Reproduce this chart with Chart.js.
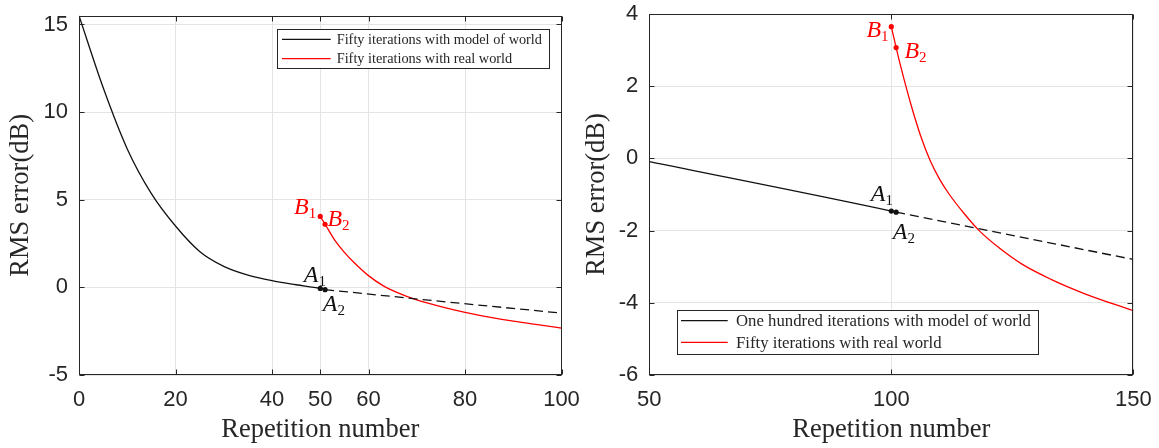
<!DOCTYPE html>
<html>
<head>
<meta charset="utf-8">
<title>RMS error vs repetition number</title>
<script src="https://cdn.jsdelivr.net/npm/chart.js@4.4.1/dist/chart.umd.min.js"></script>
<style>
    body { margin: 0; background: #fff; }
    #wrap { position: relative; width: 1159px; height: 448px; overflow: hidden; }
    canvas { position: absolute; top: 0; }
</style>
</head>
<body>
<div id="wrap">
    <canvas id="leftChart" width="580" height="448" style="left:0"></canvas>
    <canvas id="rightChart" width="579" height="448" style="left:580px"></canvas>
</div>
<script>
// ---- left panel: fifty iterations with model, then fifty with real world
const leftModelX = [0, 5, 10, 15, 20, 25, 30, 35, 40, 45, 50, 51];
const leftModelY = [15.5, 11.4, 7.9, 5.35, 3.5, 2.05, 1.2, 0.7, 0.38, 0.15, -0.06, -0.13];
const leftDashX = [51, 75, 100];
const leftDashY = [-0.13, -0.8, -1.47];
const leftRealX = [50, 51, 53, 55, 57, 60, 63, 66, 70, 75, 80, 85, 90, 95, 100];
const leftRealY = [4.05, 3.6, 2.7, 2.0, 1.42, 0.67, 0.1, -0.3, -0.72, -1.1, -1.43, -1.7, -1.93, -2.13, -2.32];
const leftXTicks = [0, 20, 40, 50, 60, 80, 100];
const leftYTicks = [-5, 0, 5, 10, 15];

// ---- right panel: one hundred iterations with model, then fifty with real world
const rightModelX = [50, 100, 101];
const rightModelY = [-0.09, -1.46, -1.49];
const rightDashX = [101, 125, 150];
const rightDashY = [-1.49, -2.13, -2.80];
const rightRealX = [100, 101, 102, 104, 106, 108, 110, 112, 115, 118, 122, 127, 133, 140, 150];
const rightRealY = [3.65, 3.07, 2.52, 1.52, 0.65, -0.05, -0.58, -1.0, -1.52, -1.98, -2.45, -2.93, -3.35, -3.75, -4.22];
const rightXTicks = [50, 100, 150];
const rightYTicks = [-6, -4, -2, 0, 2, 4];

const leftLegend = ["Fifty iterations with model of world", "Fifty iterations with real world"];
const rightLegend = ["One hundred iterations with model of world", "Fifty iterations with real world"];

const gridColor = "#e4e4e4";
const axisColor = "#262626";
const red = "#ff0000";
const black = "#111111";
const serif = '"Liberation Serif", "Times New Roman", serif';
const tickFont = { family: '"Liberation Sans", Arial, sans-serif', size: 22 };
const titleFont = { family: serif, size: 26.5 };

function pts(xs, ys) {
    return xs.map((x, i) => ({ x: x, y: ys[i] }));
}

// MATLAB style box with inward tick marks
const frame = {
    id: "frame",
    afterDatasetsDraw(chart) {
        const { ctx, chartArea: a, scales } = chart;
        const l = Math.round(a.left) + 0.5, r = Math.round(a.right) - 0.5;
        const t = Math.round(a.top) + 0.5, b = Math.round(a.bottom) - 0.5;
        ctx.save();
        ctx.strokeStyle = axisColor;
        ctx.lineWidth = 1;
        ctx.beginPath();
        scales.x.ticks.forEach(tk => {
            const px = Math.round(scales.x.getPixelForValue(tk.value)) + 0.5;
            ctx.moveTo(px, b); ctx.lineTo(px, b - 5);
            ctx.moveTo(px, t); ctx.lineTo(px, t + 5);
        });
        scales.y.ticks.forEach(tk => {
            const py = Math.round(scales.y.getPixelForValue(tk.value)) + 0.5;
            ctx.moveTo(l, py); ctx.lineTo(l + 5, py);
            ctx.moveTo(r, py); ctx.lineTo(r - 5, py);
        });
        ctx.stroke();
        ctx.strokeRect(l, t, r - l, b - t);
        ctx.restore();
    }
};

// legend box drawn inside the plot, like the original figure
const boxLegend = {
    id: "boxLegend",
    afterDatasetsDraw(chart, args, o) {
        const ctx = chart.ctx;
        ctx.save();
        ctx.fillStyle = "#fff";
        ctx.fillRect(o.left, o.top, o.width, o.height);
        ctx.strokeStyle = axisColor;
        ctx.lineWidth = 1;
        ctx.strokeRect(Math.round(o.left) + 0.5, Math.round(o.top) + 0.5, Math.round(o.width), Math.round(o.height));
        ctx.font = o.size + "px " + serif;
        ctx.textBaseline = "middle";
        ctx.textAlign = "left";
        chart.data.datasets.filter(ds => ds.label).forEach((ds, i) => {
            const y = o.rows[i];
            ctx.strokeStyle = ds.borderColor;
            ctx.lineWidth = 1.3;
            ctx.beginPath();
            ctx.moveTo(o.lineStart, y);
            ctx.lineTo(o.lineEnd, y);
            ctx.stroke();
            ctx.fillStyle = axisColor;
            ctx.fillText(ds.label, o.textX, y + 1);
        });
        ctx.restore();
    }
};

// A1, A2, B1, B2 point names
const pointNames = {
    id: "pointNames",
    afterDatasetsDraw(chart, args, o) {
        const ctx = chart.ctx;
        ctx.save();
        ctx.textBaseline = "alphabetic";
        ctx.textAlign = "left";
        o.items.forEach(it => {
            const ds = chart.data.datasets[it.ds];
            const idx = ds.data.findIndex(p => p.x === it.x);
            const el = chart.getDatasetMeta(it.ds).data[idx];
            const mainFont = "italic 24px " + serif;
            const subFont = "15px " + serif;
            ctx.font = mainFont;
            const w1 = ctx.measureText(it.name).width;
            ctx.font = subFont;
            const w2 = ctx.measureText(it.sub).width;
            let x = el.x + it.dx;
            if (it.align === "right") x -= (w1 + w2);
            const y = el.y + it.dy;
            ctx.fillStyle = ds.borderColor;
            ctx.font = mainFont;
            ctx.fillText(it.name, x, y);
            ctx.font = subFont;
            ctx.fillText(it.sub, x + w1, y + 4);
        });
        ctx.restore();
    }
};

function markerRadius(list) {
    return ctx => (list.includes(ctx.dataIndex) ? 2.6 : 0);
}

function makeChart(el, cfg) {
    const xTicks = cfg.xTicks, yTicks = cfg.yTicks;
    return new Chart(document.getElementById(el), {
        type: "line",
        data: {
            datasets: [
                {
                    label: cfg.legend[0],
                    data: pts(cfg.modelX, cfg.modelY),
                    borderColor: black,
                    backgroundColor: black,
                    borderWidth: 1.3,
                    pointRadius: markerRadius([cfg.modelX.length - 2, cfg.modelX.length - 1]),
                    pointBorderWidth: 0,
                    cubicInterpolationMode: "monotone"
                },
                {
                    data: pts(cfg.dashX, cfg.dashY),
                    borderColor: black,
                    borderWidth: 1.3,
                    borderDash: [9, 5],
                    pointRadius: 0
                },
                {
                    label: cfg.legend[1],
                    data: pts(cfg.realX, cfg.realY),
                    borderColor: red,
                    backgroundColor: red,
                    borderWidth: 1.3,
                    pointRadius: markerRadius([0, 1]),
                    pointBorderWidth: 0,
                    cubicInterpolationMode: "monotone"
                }
            ]
        },
        options: {
            responsive: false,
            animation: false,
            devicePixelRatio: 1,
            layout: { padding: cfg.padding },
            plugins: {
                legend: { display: false },
                tooltip: { enabled: false },
                boxLegend: cfg.legendBox,
                pointNames: { items: cfg.names }
            },
            scales: {
                x: {
                    type: "linear",
                    min: cfg.xMin,
                    max: cfg.xMax,
                    afterBuildTicks: s => { s.ticks = xTicks.map(v => ({ value: v })); },
                    afterFit: s => { s.height = 73; s.paddingLeft = 0; s.paddingRight = 0; },
                    grid: { color: gridColor, drawTicks: false },
                    border: { display: false },
                    ticks: { font: tickFont, color: axisColor, padding: 12, maxRotation: 0, autoSkip: false },
                    title: {
                        display: true, text: "Repetition number", font: titleFont, color: axisColor,
                        padding: { top: 0, bottom: 2 }
                    }
                },
                y: {
                    min: cfg.yMin,
                    max: cfg.yMax,
                    afterBuildTicks: s => { s.ticks = yTicks.map(v => ({ value: v })); },
                    afterFit: s => { s.width = cfg.yWidth; s.paddingTop = 0; s.paddingBottom = 0; },
                    grid: { color: gridColor, drawTicks: false },
                    border: { display: false },
                    ticks: { font: tickFont, color: axisColor, padding: 11 },
                    title: {
                        display: true, text: "RMS error(dB)", font: titleFont, color: axisColor,
                        padding: { top: cfg.yTitlePad, bottom: 0 }
                    }
                }
            }
        },
        plugins: [frame, boxLegend, pointNames]
    });
}

makeChart("leftChart", {
    modelX: leftModelX, modelY: leftModelY,
    dashX: leftDashX, dashY: leftDashY,
    realX: leftRealX, realY: leftRealY,
    xTicks: leftXTicks, yTicks: leftYTicks,
    xMin: 0, xMax: 100, yMin: -5, yMax: 15.5,
    legend: leftLegend,
    padding: { top: 15.7, right: 18.5, left: 0, bottom: 0 },
    yWidth: 79,
    yTitlePad: 5,
    legendBox: { left: 276.7, top: 29.3, width: 271.6, height: 39, lineStart: 282, lineEnd: 330.7, textX: 336.7, rows: [39.3, 58.7], size: 14.3 },
    names: [
        { ds: 0, x: 50, name: "A", sub: "1", align: "right", dx: 5.7, dy: -6.7 },
        { ds: 0, x: 51, name: "A", sub: "2", align: "left", dx: -2.3, dy: 21.7 },
        { ds: 2, x: 50, name: "B", sub: "1", align: "right", dx: -4, dy: -2 },
        { ds: 2, x: 51, name: "B", sub: "2", align: "left", dx: 2.3, dy: 1.4 }
    ]
});

makeChart("rightChart", {
    modelX: rightModelX, modelY: rightModelY,
    dashX: rightDashX, dashY: rightDashY,
    realX: rightRealX, realY: rightRealY,
    xTicks: rightXTicks, yTicks: rightYTicks,
    xMin: 50, xMax: 150, yMin: -6, yMax: 4,
    legend: rightLegend,
    padding: { top: 14, right: 25.7, left: 0, bottom: 0 },
    yWidth: 69.3,
    yTitlePad: 1.3,
    legendBox: { left: 96.7, top: 310, width: 360.6, height: 44.3, lineStart: 101, lineEnd: 147.7, textX: 156, rows: [320.7, 342.3], size: 16.75 },
    names: [
        { ds: 0, x: 100, name: "A", sub: "1", align: "right", dx: 1.7, dy: -10 },
        { ds: 0, x: 101, name: "A", sub: "2", align: "left", dx: -3.4, dy: 27 },
        { ds: 2, x: 100, name: "B", sub: "1", align: "right", dx: -2.7, dy: 10 },
        { ds: 2, x: 101, name: "B", sub: "2", align: "left", dx: 8.3, dy: 10 }
    ]
});
</script>
</body>
</html>
